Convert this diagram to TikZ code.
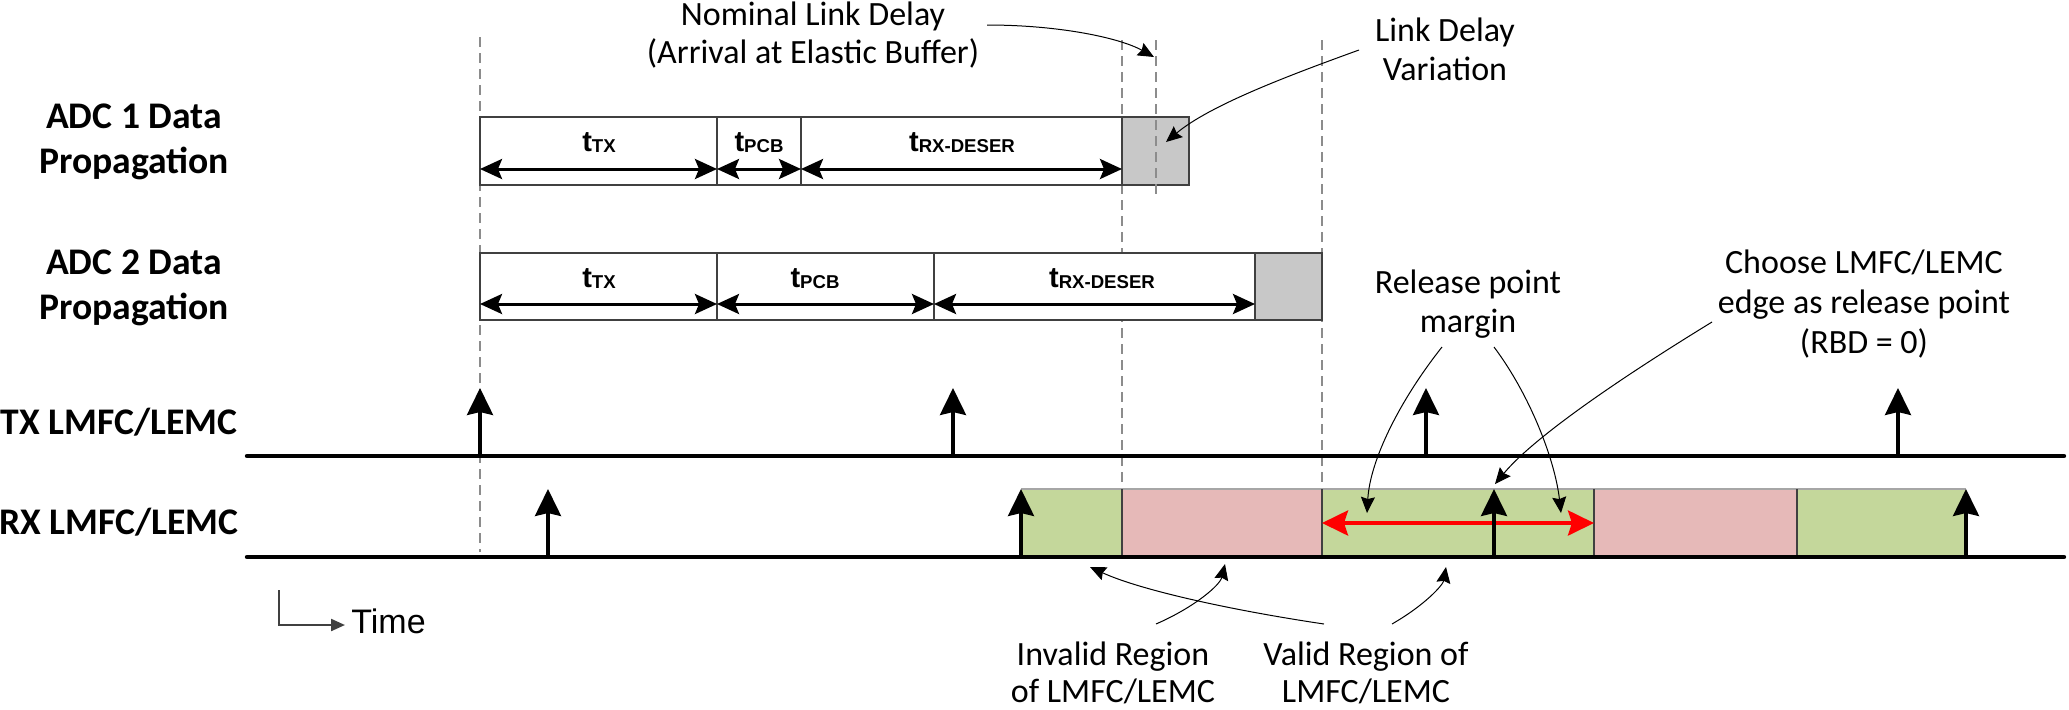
\documentclass[tikz,border=0pt]{standalone}
\usepackage{fontspec}
\setmainfont{Carlito}
\newfontfamily\arialfont{Liberation Sans}
\usetikzlibrary{arrows.meta}
\definecolor{okgreen}{HTML}{C4D79B}
\definecolor{badpink}{HTML}{E6B9B8}
\definecolor{bufgray}{HTML}{C8C8C8}
\definecolor{dashgray}{HTML}{8C8C8C}
\definecolor{edgegray}{HTML}{404040}
\newcommand{\tlab}[1]{t\raisebox{-0.5pt}{\fontsize{9.3}{10}\selectfont #1}}
\begin{document}
\begin{tikzpicture}[x=0.5pt,y=-0.5pt,
  mainline/.style={line width=2.2pt, line cap=round},
  tick/.style={line width=1.7pt, -{Stealth[length=13.5pt,width=13pt,inset=1.5pt]}},
  seg/.style={draw=edgegray, line width=0.7pt},
  dur/.style={line width=1.5pt, {Stealth[length=11pt,width=10pt,inset=2pt]}-{Stealth[length=11pt,width=10pt,inset=2pt]}},
  guide/.style={draw=dashgray, line width=0.6pt, dash pattern=on 5pt off 3pt},
  note/.style={line width=0.5pt, -{Stealth[length=8pt,width=7pt,inset=1pt]}},
  marginarrow/.style={draw=red, line width=2pt, {Stealth[length=13pt,width=12.5pt,inset=2pt]}-{Stealth[length=13pt,width=12.5pt,inset=2pt]}},
  lbl/.style={font=\fontsize{18.8}{21}\selectfont\bfseries, anchor=base, inner sep=0pt},
  txt/.style={font=\fontsize{17}{20}\selectfont, anchor=base, inner sep=0pt},
  tl/.style={font=\arialfont\bfseries\fontsize{14.5}{16}\selectfont, anchor=base, inner sep=0pt},
  timeax/.style={draw=edgegray, line width=1.1pt, -{Triangle[length=7pt,width=6pt]}},
]
\useasboundingbox (0,0) rectangle (2069,709);

% ---------- guides (behind boxes) ----------
\coordinate (g1t) at (480,37);  \coordinate (g1b) at (480,552);
\coordinate (g2t) at (1122,40); \coordinate (g2b) at (1122,489);
\coordinate (g3t) at (1322,40); \coordinate (g3b) at (1322,489);
\coordinate (g4t) at (1156,40); \coordinate (g4b) at (1156,195);
\draw[guide] (g1t) -- (g1b);
\draw[guide] (g2t) -- (g2b);
\draw[guide] (g3t) -- (g3b);

% ---------- ADC 1 ----------
\draw[seg, fill=white] (480,117) rectangle (717,185);
\draw[seg, fill=white] (717,117) rectangle (801,185);
\draw[seg, fill=white] (801,117) rectangle (1122,185);
\draw[seg, fill=bufgray] (1122,117) rectangle (1189,185);
\draw[guide] (g4t) -- (g4b);
\coordinate (a1) at (480,169); \coordinate (a2) at (717,169);
\coordinate (a3) at (801,169); \coordinate (a4) at (1122,169);
\draw[dur] (a1) -- (a2);
\draw[dur] (a2) -- (a3);
\draw[dur] (a3) -- (a4);
\node[tl] (t1tx) at (599,151) {\tlab{TX}};
\node[tl] (t1pcb) at (759,151) {\tlab{PCB}};
\node[tl] (t1rx) at (962,151) {\tlab{RX-DESER}};

% ---------- ADC 2 ----------
\draw[seg, fill=white] (480,253) rectangle (717,320);
\draw[seg, fill=white] (717,253) rectangle (934,320);
\draw[seg, fill=white] (934,253) rectangle (1255,320);
\draw[seg, fill=bufgray] (1255,253) rectangle (1322,320);
\coordinate (b1) at (480,304); \coordinate (b2) at (717,304);
\coordinate (b3) at (934,304); \coordinate (b4) at (1255,304);
\draw[dur] (b1) -- (b2);
\draw[dur] (b2) -- (b3);
\draw[dur] (b3) -- (b4);
\node[tl] (t2tx) at (599,287) {\tlab{TX}};
\node[tl] (t2pcb) at (815,287) {\tlab{PCB}};
\node[tl] (t2rx) at (1102,287) {\tlab{RX-DESER}};

% ---------- left labels ----------
\node[lbl] (adc1a) at (134,128) {ADC 1 Data};
\node[lbl] (adc1b) at (134,173) {Propagation};
\node[lbl] (adc2a) at (134,274) {ADC 2 Data};
\node[lbl] (adc2b) at (134,319) {Propagation};
\node[lbl] (txlab) at (119,434) {TX LMFC/LEMC};
\node[lbl] (rxlab) at (119,534) {RX LMFC/LEMC};

% ---------- RX regions ----------
\fill[okgreen] (1021,489) rectangle (1122,557);
\fill[badpink] (1122,489) rectangle (1322,557);
\fill[okgreen] (1322,489) rectangle (1594,557);
\fill[badpink] (1594,489) rectangle (1797,557);
\fill[okgreen] (1797,489) rectangle (1966,557);
\draw[gray!70, line width=0.6pt] (1021,489) -- (1966,489);
\foreach \xx in {1122,1322,1594,1797} \draw[edgegray, line width=0.6pt] (\xx,489) -- (\xx,557);
\coordinate (m1) at (1322,523); \coordinate (m2) at (1594,523);
\draw[marginarrow] (m1) -- (m2);

% ---------- time lines ----------
\coordinate (txL) at (247,456); \coordinate (txR) at (2064,456);
\coordinate (rxL) at (247,557); \coordinate (rxR) at (2064,557);
\draw[mainline] (txL) -- (txR);
\draw[mainline] (rxL) -- (rxR);
\foreach \xx [count=\i] in {480,953,1426,1898} {
  \coordinate (tb\i) at (\xx,456); \coordinate (tt\i) at (\xx,388);
  \draw[tick] (tb\i) -- (tt\i);
}
\foreach \xx [count=\i] in {548,1021,1494,1966} {
  \coordinate (rb\i) at (\xx,557); \coordinate (rt\i) at (\xx,489);
  \draw[tick] (rb\i) -- (rt\i);
}

% ---------- annotations ----------
\node[txt] (nom1) at (813,25) {Nominal Link Delay};
\node[txt] (nom2) at (813,63) {(Arrival at Elastic Buffer)};
\coordinate (nomS) at (987,25); \coordinate (nomE) at (1154,57);
\draw[note] (nomS) .. controls (1060,25) and (1120,38) .. (nomE);

\node[txt] (ldv1) at (1445,41) {Link Delay};
\node[txt] (ldv2) at (1445,80) {Variation};
\coordinate (ldvS) at (1359,50); \coordinate (ldvE) at (1166,142);
\draw[note] (ldvS) .. controls (1290,75) and (1210,105) .. (ldvE);

\node[txt] (rel1) at (1468,293) {Release point};
\node[txt] (rel2) at (1468,332) {margin};
\coordinate (relS1) at (1442,347); \coordinate (relE1) at (1367,513);
\coordinate (relS2) at (1494,347); \coordinate (relE2) at (1561,513);
\draw[note] (relS1) .. controls (1400,400) and (1370,460) .. (relE1);
\draw[note] (relS2) .. controls (1530,395) and (1555,460) .. (relE2);

\node[txt] (ch1) at (1864,273) {Choose LMFC/LEMC};
\node[txt] (ch2) at (1864,313) {edge as release point};
\node[txt] (ch3) at (1864,353) {(RBD = 0)};
\coordinate (chS) at (1712,322); \coordinate (chE) at (1495,484);
\draw[note] (chS) .. controls (1650,360) and (1540,430) .. (chE);

\node[txt] (inv1) at (1113,665) {Invalid Region};
\node[txt] (inv2) at (1113,702) {of LMFC/LEMC};
\node[txt] (val1) at (1366,665) {Valid Region of};
\node[txt] (val2) at (1366,702) {LMFC/LEMC};
\coordinate (invS) at (1156,624); \coordinate (invE) at (1225,564);
\coordinate (valS1) at (1324,624); \coordinate (valE1) at (1090,567);
\coordinate (valS2) at (1392,624); \coordinate (valE2) at (1446,567);
\draw[note] (invS) .. controls (1195,607) and (1220,585) .. (invE);
\draw[note] (valS1) .. controls (1230,610) and (1140,590) .. (valE1);
\draw[note] (valS2) .. controls (1425,605) and (1443,585) .. (valE2);

% ---------- time axis ----------
\coordinate (ta1) at (279,590); \coordinate (ta2) at (279,625); \coordinate (ta3) at (345,625);
\draw[timeax] (ta1) -- (ta2) -- (ta3);
\node[anchor=base west, inner sep=0pt, font=\arialfont\fontsize{17}{20}\selectfont] (timelab) at (351,633) {Time};
\end{tikzpicture}
\end{document}
